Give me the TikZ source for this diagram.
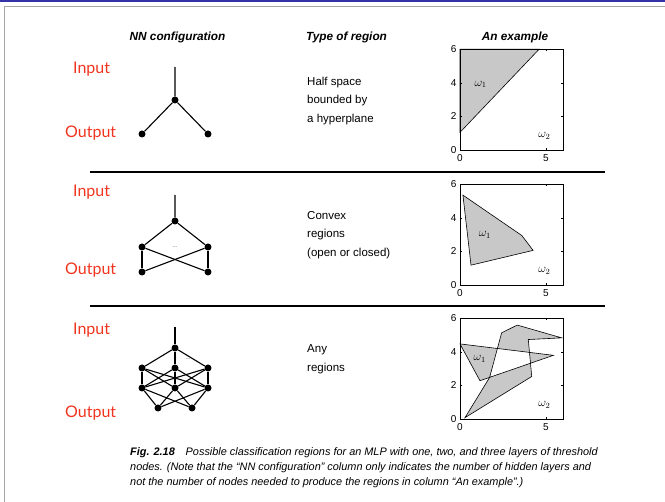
\documentclass[tikz,border=0pt]{standalone}
\usepackage{fontspec}
\setmainfont{Liberation Sans}
\newfontfamily\labfont{Lato}
\usepackage{tikz}
\usetikzlibrary{positioning,calc}
\usepackage{xcolor}
\definecolor{labred}{RGB}{240,52,30}
\definecolor{barblue}{RGB}{52,52,168}
\definecolor{regfill}{RGB}{200,200,200}

\begin{document}
\begin{tikzpicture}[x=1pt,y=-1pt,
  unit/.style={circle,fill=black,inner sep=0pt,minimum size=7pt},
  wire/.style={line width=1.1pt},
  iolab/.style={font=\labfont\fontsize{16}{16}\selectfont,text=labred,anchor=west,inner sep=0pt},
  head/.style={font=\fontsize{11.8}{12}\selectfont\bfseries\itshape},
  regtext/.style={font=\fontsize{11.5}{18.5}\selectfont,align=left,anchor=west,inner sep=0pt},
  region/.style={draw=black,line width=0.6pt,fill=regfill},
  tick/.style={font=\fontsize{10}{10}\selectfont,inner sep=0pt},
  omega/.style={font=\fontsize{12}{12}\selectfont,inner sep=0pt}]
\useasboundingbox (0,0) rectangle (665,502);
% slide frame
\fill[barblue] (0,0) rectangle (665,2.2);
\draw[gray!70,line width=1pt] (4,502) -- (4,6.5) -- (665,6.5);

% column heads
\node[head] (hnn) at (177.5,37) {NN configuration};
\node[head] (htype) at (346.5,37) {Type of region};
\node[head] (hex) at (515,37) {An example};
\draw[line width=2pt] (90,172) -- (605,172);
\draw[line width=2pt] (90,306) -- (605,306);

% Input / Output labels
\node[iolab] (in1) at (73,69) {Input};
\node[iolab] (out1) at (65,133) {Output};
\node[iolab] (in2) at (73,192) {Input};
\node[iolab] (out2) at (65,270) {Output};
\node[iolab] (in3) at (73,330) {Input};
\node[iolab] (out3) at (65,413) {Output};

% one layer
\coordinate (ain) at (175,67);
\node[unit] (ah) at (175,100) {};
\node[unit] (ao1) at (142,134) {};
\node[unit] (ao2) at (208,134) {};
\draw[wire] (ain) -- (ah) (ah) -- (ao1) (ah) -- (ao2);

% two layers
\coordinate (bin) at (175,195);
\node[unit] (bh) at (175,221) {};
\foreach \i/\x in {1/142,2/208}{
  \node[unit] (bm\i) at (\x,247) {};
  \node[unit] (bo\i) at (\x,272) {};
}
\node[font=\tiny] (bdots) at (175,247) {...};
\draw[wire] (bin) -- (bh) (bh) -- (bm1) (bh) -- (bm2);
\foreach \i in {1,2}{\foreach \j in {1,2}{\draw[wire] (bm\i) -- (bo\j);}}

% three layers
\coordinate (cin) at (175,327);
\node[unit] (ch) at (175,348) {};
\foreach \i/\x in {1/142,2/175,3/208}{
  \node[unit] (cm\i) at (\x,368) {};
  \node[unit] (cn\i) at (\x,388) {};
}
\node[unit] (co1) at (158,408) {};
\node[unit] (co2) at (192,408) {};
\node[font=\tiny] (cdots) at (188,359) {...};
\draw[wire] (cin) -- (ch);
\foreach \i in {1,2,3}{
  \draw[wire] (ch) -- (cm\i);
  \foreach \j in {1,2,3}{\draw[wire] (cm\i) -- (cn\j);}
  \foreach \j in {1,2}{\draw[wire] (cn\i) -- (co\j);}
}

% region texts
\node[regtext] (t1) at (307,101) {Half space\\bounded by\\a hyperplane};
\node[regtext] (t2) at (307,235) {Convex\\regions\\(open or closed)};
\node[regtext] (t3) at (307,359) {Any\\regions};

% examples
\foreach \n/\yb in {1/150,2/285,3/419}{
\begin{scope}[shift={(460,\yb)},x=17.2pt,y=16.8pt]
  \ifcase\n\or
    \draw[region] (0,1.05) -- (0,6) -- (4.6,6) -- cycle;
    \node[omega] (w1a) at (1.2,3.9) {$\omega_1$};
  \or
    \draw[region] (0.17,5.35) -- (3.6,2.94) -- (4.25,2.06) -- (0.64,1.18) -- cycle;
    \node[omega] (w1b) at (1.45,3.0) {$\omega_1$};
  \or
    \draw[region,even odd rule] (0,4.47) -- (5.43,3.79) -- (1.16,2.28) -- cycle
      (0.29,0.08) -- (4.17,2.53) -- (3.97,4.73) -- (5.91,4.83) -- (3.33,5.59)
      -- (2.42,5.13) -- (1.72,2.47) -- cycle;
    \node[omega] (w1c) at (1.15,3.6) {$\omega_1$};
  \fi
  \node[omega] (w2\n) at (4.9,0.85) {$\omega_2$};
  \draw[line width=0.6pt] (0,0) rectangle (6,6);
  \foreach \v in {0,2,4,6}{
    \draw[line width=0.4pt] (0,\v) -- ++(0.12,0) (6,\v) -- ++(-0.12,0);
    \node[tick,anchor=east] (ly\n\v) at (-0.2,\v) {\v};
  }
  \foreach \v in {0,5}{
    \draw[line width=0.4pt] (\v,0) -- ++(0,0.12) (\v,6) -- ++(0,-0.12);
    \node[tick,anchor=north] (lx\n\v) at (\v,-0.25) {\v};
  }
\end{scope}}

% caption
\node[anchor=north west,inner sep=0pt,align=left,font=\fontsize{10.9}{15.3}\selectfont\itshape] (cap) at (130,447)
  {\textbf{Fig. 2.18}\quad Possible classification regions for an MLP with one, two, and three layers of threshold\\
   nodes. (Note that the “NN configuration” column only indicates the number of hidden layers and\\
   not the number of nodes needed to produce the regions in column “An example”.)};
\end{tikzpicture}
\end{document}
